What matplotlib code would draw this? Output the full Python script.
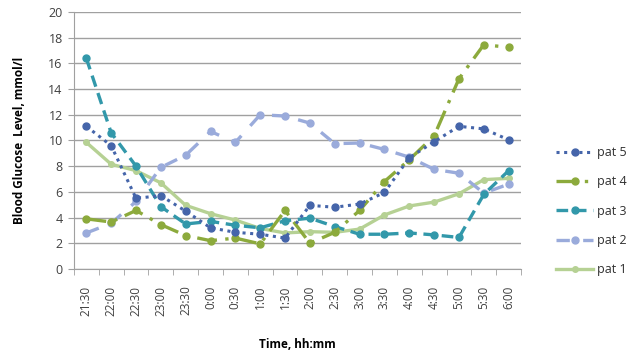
import matplotlib
matplotlib.use("Agg")
import matplotlib.pyplot as plt

times = ["21:30", "22:00", "22:30", "23:00", "23:30", "0:00", "0:30", "1:00", "1:30",
         "2:00", "2:30", "3:00", "3:30", "4:00", "4:30", "5:00", "5:30", "6:00"]

pat5 = [11.1, 9.6, 5.5, 5.7, 4.5, 3.2, 2.85, 2.7, 2.4, 4.95, 4.8, 5.05, 5.95, 8.65, 9.9, 11.1, 10.9, 10.05]
pat4 = [3.9, 3.65, 4.55, 3.45, 2.6, 2.2, 2.4, 1.95, 4.55, 2.0, 2.85, 4.55, 6.8, 8.5, 10.35, 14.8, 17.45, 17.25]
pat3 = [16.4, 10.6, 8.0, 4.85, 3.5, 3.7, 3.4, 3.2, 3.75, 3.95, 3.3, 2.7, 2.7, 2.8, 2.65, 2.45, 5.8, 7.65]
pat2 = [2.8, 3.55, 5.25, 7.9, 8.85, 10.7, 9.85, 12.0, 11.9, 11.35, 9.75, 9.8, 9.3, 8.7, 7.75, 7.45, 5.9, 6.6]
pat1 = [9.85, 8.15, 7.65, 6.7, 4.95, 4.3, 3.8, 3.15, 2.8, 2.9, 2.85, 3.1, 4.2, 4.9, 5.2, 5.85, 6.95, 7.05]

y_ticks = [0, 2, 4, 6, 8, 10, 12, 14, 16, 18, 20]

plt.rcParams['font.family'] = ['Open Sans', 'DejaVu Sans']

fig = plt.figure(figsize=(6.37, 3.52), dpi=100)
ax = fig.add_axes([0.116, 0.236, 0.702, 0.730])

x = list(range(len(times)))

series = [
    ("pat 5", pat5, "#4565AA", (0, (1, 1.5)), 5, 2.2),
    ("pat 4", pat4, "#8CAA3C", (0, (6, 2.5, 1, 2.5)), 5, 2.4),
    ("pat 3", pat3, "#3298AA", (0, (3.5, 2)), 5, 2.4),
    ("pat 2", pat2, "#9AABDB", (0, (4, 4)), 5, 2.4),
    ("pat 1", pat1, "#B6D194", "-", 4, 2.4),
]

for name, vals, col, ls, ms, lw in series[::-1]:
    ax.plot(x, vals, color=col, linestyle=ls, linewidth=lw, marker="o",
            markersize=ms, markeredgecolor=col, markerfacecolor=col, label=name)

ax.set_xlim(-0.5, len(times) - 0.5)
ax.set_ylim(0, 20)
ax.set_yticks(y_ticks)
ax.set_yticklabels([str(v) for v in y_ticks], fontsize=9, color="#404040")
ax.set_xticks(x)
ax.set_xticklabels(times, rotation=90, fontsize=8.5, color="#404040")
ax.set_xticks([i - 0.5 for i in range(len(times) + 1)], minor=True)
ax.tick_params(axis="x", which="major", length=0, pad=12)
ax.tick_params(axis="x", which="minor", length=4, color="#A0A0A0")
ax.tick_params(axis="y", length=4, color="#A0A0A0", pad=4)

ax.grid(axis="y", color="#A0A0A0", linewidth=1)
ax.set_axisbelow(True)
for s in ["top", "right"]:
    ax.spines[s].set_visible(False)
ax.spines["left"].set_color("#A0A0A0")
ax.spines["bottom"].set_color("#A0A0A0")

ax.set_ylabel("Blood Glucose  Level, mmol/l", fontsize=8.5, fontweight="bold", labelpad=16)
ax.set_xlabel("Time, hh:mm", fontsize=8.5, fontweight="bold", labelpad=16)

handles, labels = ax.get_legend_handles_labels()
leg = fig.legend(handles[::-1], labels[::-1], loc="center left", bbox_to_anchor=(0.855, 0.40),
                 frameon=False, fontsize=9, handlelength=3.0, labelspacing=1.3,
                 handletextpad=0.3)
for t in leg.get_texts():
    t.set_color("#303030")

fig.savefig("out.png", dpi=100)
